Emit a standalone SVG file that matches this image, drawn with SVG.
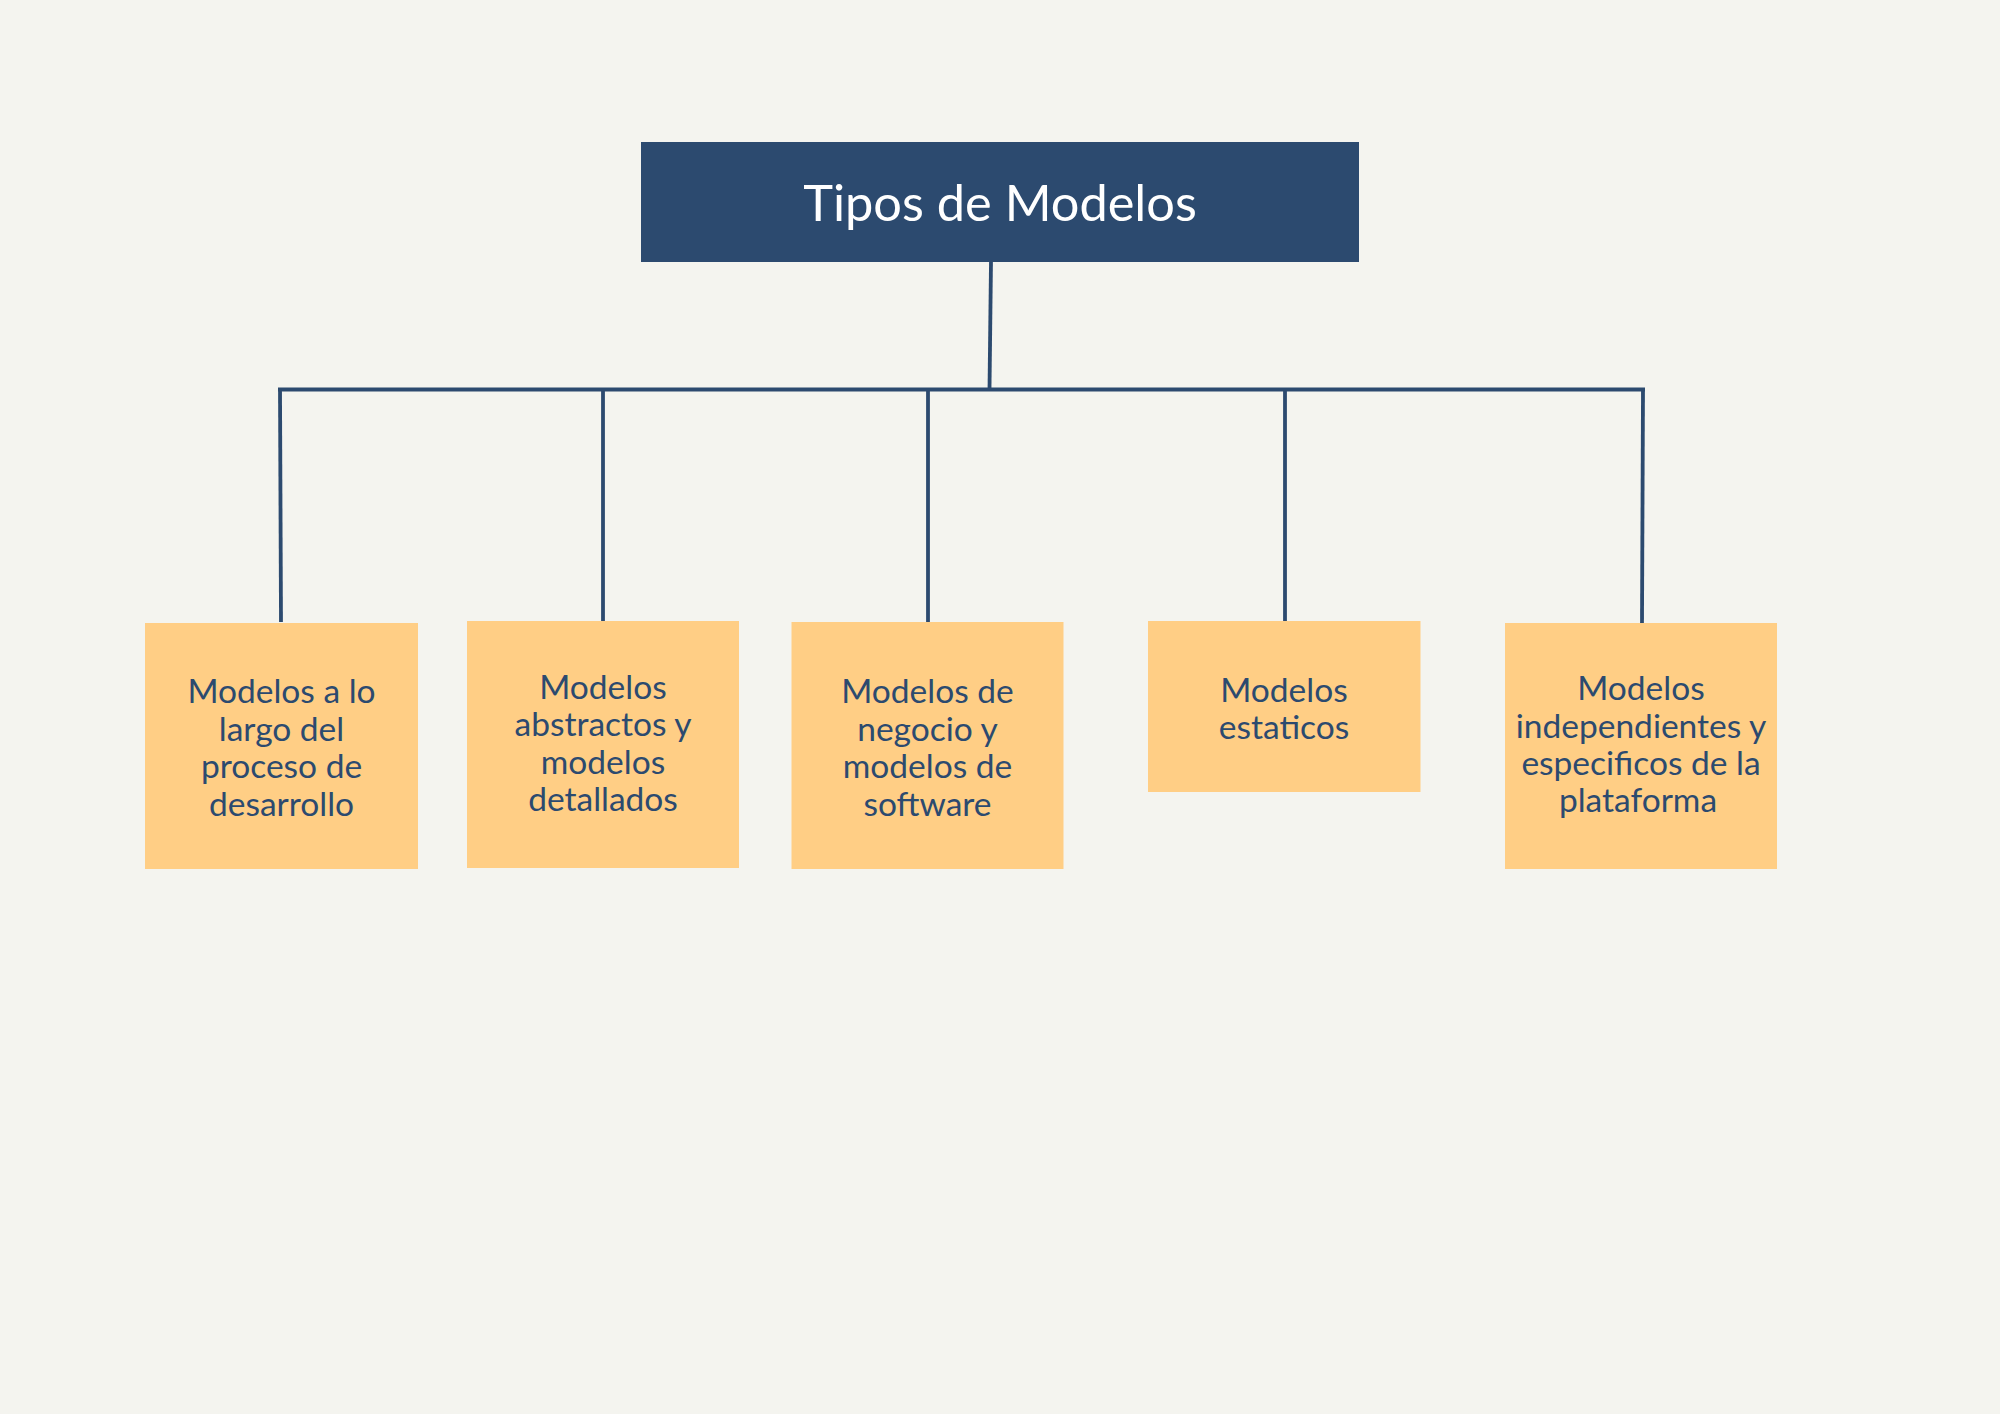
<svg xmlns="http://www.w3.org/2000/svg" width="2000" height="1414" viewBox="0 0 2000 1414">
<style>
.bg{fill:#F4F4EF}
.title{fill:#2C4A6F}
.card{fill:#FFCE85}
.conn{stroke:#2C4A6F;stroke-width:3.8;fill:none;stroke-linecap:butt}
.tt{font-family:Lato,"Open Sans","Liberation Sans",sans-serif;font-size:50.5px;fill:#FFFFFF;text-anchor:middle}
.lbl{font-family:Lato,"Open Sans","Liberation Sans",sans-serif;font-size:33.5px;fill:#2C4A6F;text-anchor:middle}
</style>
<rect class="bg" x="0" y="0" width="2000" height="1414"/>
<g id="connectors">
<line class="conn" x1="991" y1="262" x2="989.5" y2="389"/>
<line class="conn" x1="278" y1="389.5" x2="1645" y2="389.5"/>
<line class="conn" x1="280" y1="389.5" x2="281" y2="622"/>
<line class="conn" x1="603" y1="391" x2="603" y2="621"/>
<line class="conn" x1="928" y1="391" x2="928" y2="622"/>
<line class="conn" x1="1285" y1="391" x2="1285" y2="621"/>
<line class="conn" x1="1643" y1="389.5" x2="1642" y2="623"/>
</g>
<g id="root">
<rect class="title" x="641" y="142" width="718" height="120"/>
<text class="tt" x="1000" y="221">Tipos de Modelos</text>
</g>
<g id="n1">
<rect class="card" x="145" y="623" width="273" height="246"/>
<text class="lbl" x="281.5" y="703">Modelos a lo</text>
<text class="lbl" x="281.5" y="740.5">largo del</text>
<text class="lbl" x="281.5" y="778">proceso de</text>
<text class="lbl" x="281.5" y="815.5">desarrollo</text>
</g>
<g id="n2">
<rect class="card" x="467" y="621" width="272" height="247"/>
<text class="lbl" x="603" y="698.5">Modelos</text>
<text class="lbl" x="603" y="736">abstractos y</text>
<text class="lbl" x="603" y="773.5">modelos</text>
<text class="lbl" x="603" y="811">detallados</text>
</g>
<g id="n3">
<rect class="card" x="791.5" y="622" width="272" height="247"/>
<text class="lbl" x="927.5" y="703">Modelos de</text>
<text class="lbl" x="927.5" y="740.5">negocio y</text>
<text class="lbl" x="927.5" y="778">modelos de</text>
<text class="lbl" x="927.5" y="815.5">software</text>
</g>
<g id="n4">
<rect class="card" x="1148" y="621" width="272.5" height="171"/>
<text class="lbl" x="1284" y="701.5">Modelos</text>
<text class="lbl" x="1284" y="739">estaticos</text>
</g>
<g id="n5">
<rect class="card" x="1505" y="623" width="272" height="246"/>
<text class="lbl" x="1641" y="700">Modelos</text>
<text class="lbl" x="1641" y="737.5">independientes y</text>
<text class="lbl" x="1641" y="775">especificos de la</text>
<text class="lbl" x="1638" y="812">plataforma</text>
</g>
</svg>
